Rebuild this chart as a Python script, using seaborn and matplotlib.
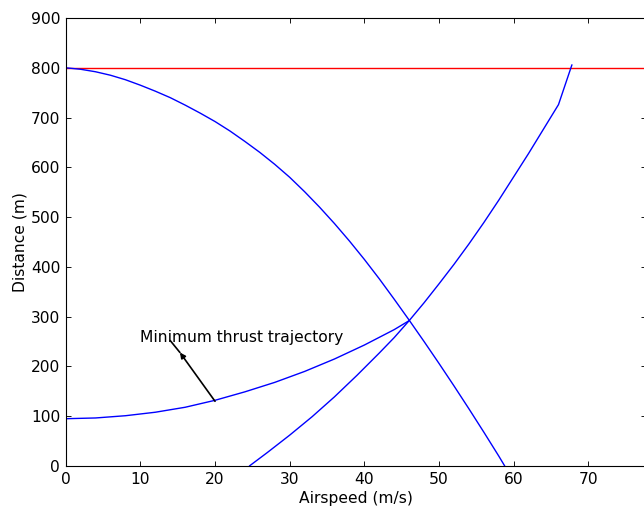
import matplotlib
matplotlib.use("Agg")
import matplotlib.pyplot as plt
import seaborn as sns
import pandas as pd

# ---- data ----
desc_x = [0, 2, 4, 6, 8, 10, 12, 14, 16, 18, 20, 22, 24, 26, 28, 30, 32, 34, 36, 38,
          40, 42, 44, 46, 48, 50, 52, 54, 56, 58, 58.8]
desc_y = [800, 797, 792, 785, 776, 765, 753, 740, 725, 709, 692, 673, 652, 630, 606, 580,
          551, 520, 487, 452, 415, 376, 335, 293, 250, 206, 161, 115, 68, 20, 0]

minthr_x = [0, 4, 8, 12, 16, 20, 24, 28, 32, 36, 40, 44, 46]
minthr_y = [95, 96.5, 101, 108, 118, 132, 149, 168, 190, 215, 243, 274, 292]

asc_x = [24.6, 27, 30, 33, 36, 39, 42, 44, 46, 48, 50, 52, 54, 56, 58, 60, 62, 64, 66, 67.8]
asc_y = [0, 27, 62, 99, 139, 182, 227, 258, 292, 328, 366, 405, 446, 489, 534, 581, 628, 677, 726, 806]

limit_x = [0, 80]
limit_y = [800, 800]

x_ticks = [0, 10, 20, 30, 40, 50, 60, 70]
y_ticks = [0, 100, 200, 300, 400, 500, 600, 700, 800, 900]

annot_text = "Minimum thrust trajectory"
annot_text_pos = (10, 250)
annot_point = (20, 130)
annot_head = (15.3, 228)
annot_top = (14, 252)

sns.set_style("white")
plt.rcParams["font.family"] = ["DejaVu Sans"]
for key in ["text.color", "axes.labelcolor", "xtick.color", "ytick.color"]:
    plt.rcParams[key] = "black"
FS = 14

fig = plt.figure(figsize=(644 / 80, 507 / 80), dpi=80)
ax = fig.add_axes([65.7 / 644, 41 / 507, (646 - 65.7) / 644, 448 / 507])

df_limit = pd.DataFrame({"x": limit_x, "y": limit_y})
df_desc = pd.DataFrame({"x": desc_x, "y": desc_y})
df_min = pd.DataFrame({"x": minthr_x, "y": minthr_y})
df_asc = pd.DataFrame({"x": asc_x, "y": asc_y})

LW = 1.25
sns.lineplot(data=df_limit, x="x", y="y", ax=ax, color="red", lw=LW, sort=False, estimator=None)
sns.lineplot(data=df_desc, x="x", y="y", ax=ax, color="blue", lw=LW, sort=False, estimator=None)
sns.lineplot(data=df_min, x="x", y="y", ax=ax, color="blue", lw=LW, sort=False, estimator=None)
sns.lineplot(data=df_asc, x="x", y="y", ax=ax, color="blue", lw=LW, sort=False, estimator=None)

# annotation
ax.text(annot_text_pos[0], annot_text_pos[1], annot_text, fontsize=FS, color="black")
ax.annotate("", xy=annot_head, xytext=annot_point,
            arrowprops=dict(arrowstyle="-|>", color="black", lw=1.5,
                            shrinkA=0, shrinkB=0, mutation_scale=10))
ax.annotate("", xy=annot_top, xytext=annot_head,
            arrowprops=dict(arrowstyle="-", color="black", lw=1.5,
                            shrinkA=0, shrinkB=0))

ax.set_xlim(0, 77.72)
ax.set_ylim(0, 900)
ax.set_xticks(x_ticks)
ax.set_yticks(y_ticks)
ax.set_xlabel("Airspeed (m/s)", fontsize=FS)
ax.set_ylabel("Distance (m)", fontsize=FS, labelpad=2.5)

for s in ax.spines.values():
    s.set_color("black")
    s.set_linewidth(1.0)
ax.tick_params(direction="in", length=4.5, width=0.8, color="black",
               top=True, right=True, bottom=True, left=True, labelsize=FS, pad=5)

fig.patch.set_facecolor("white")
fig.savefig("out.png", dpi=80, facecolor="white")
